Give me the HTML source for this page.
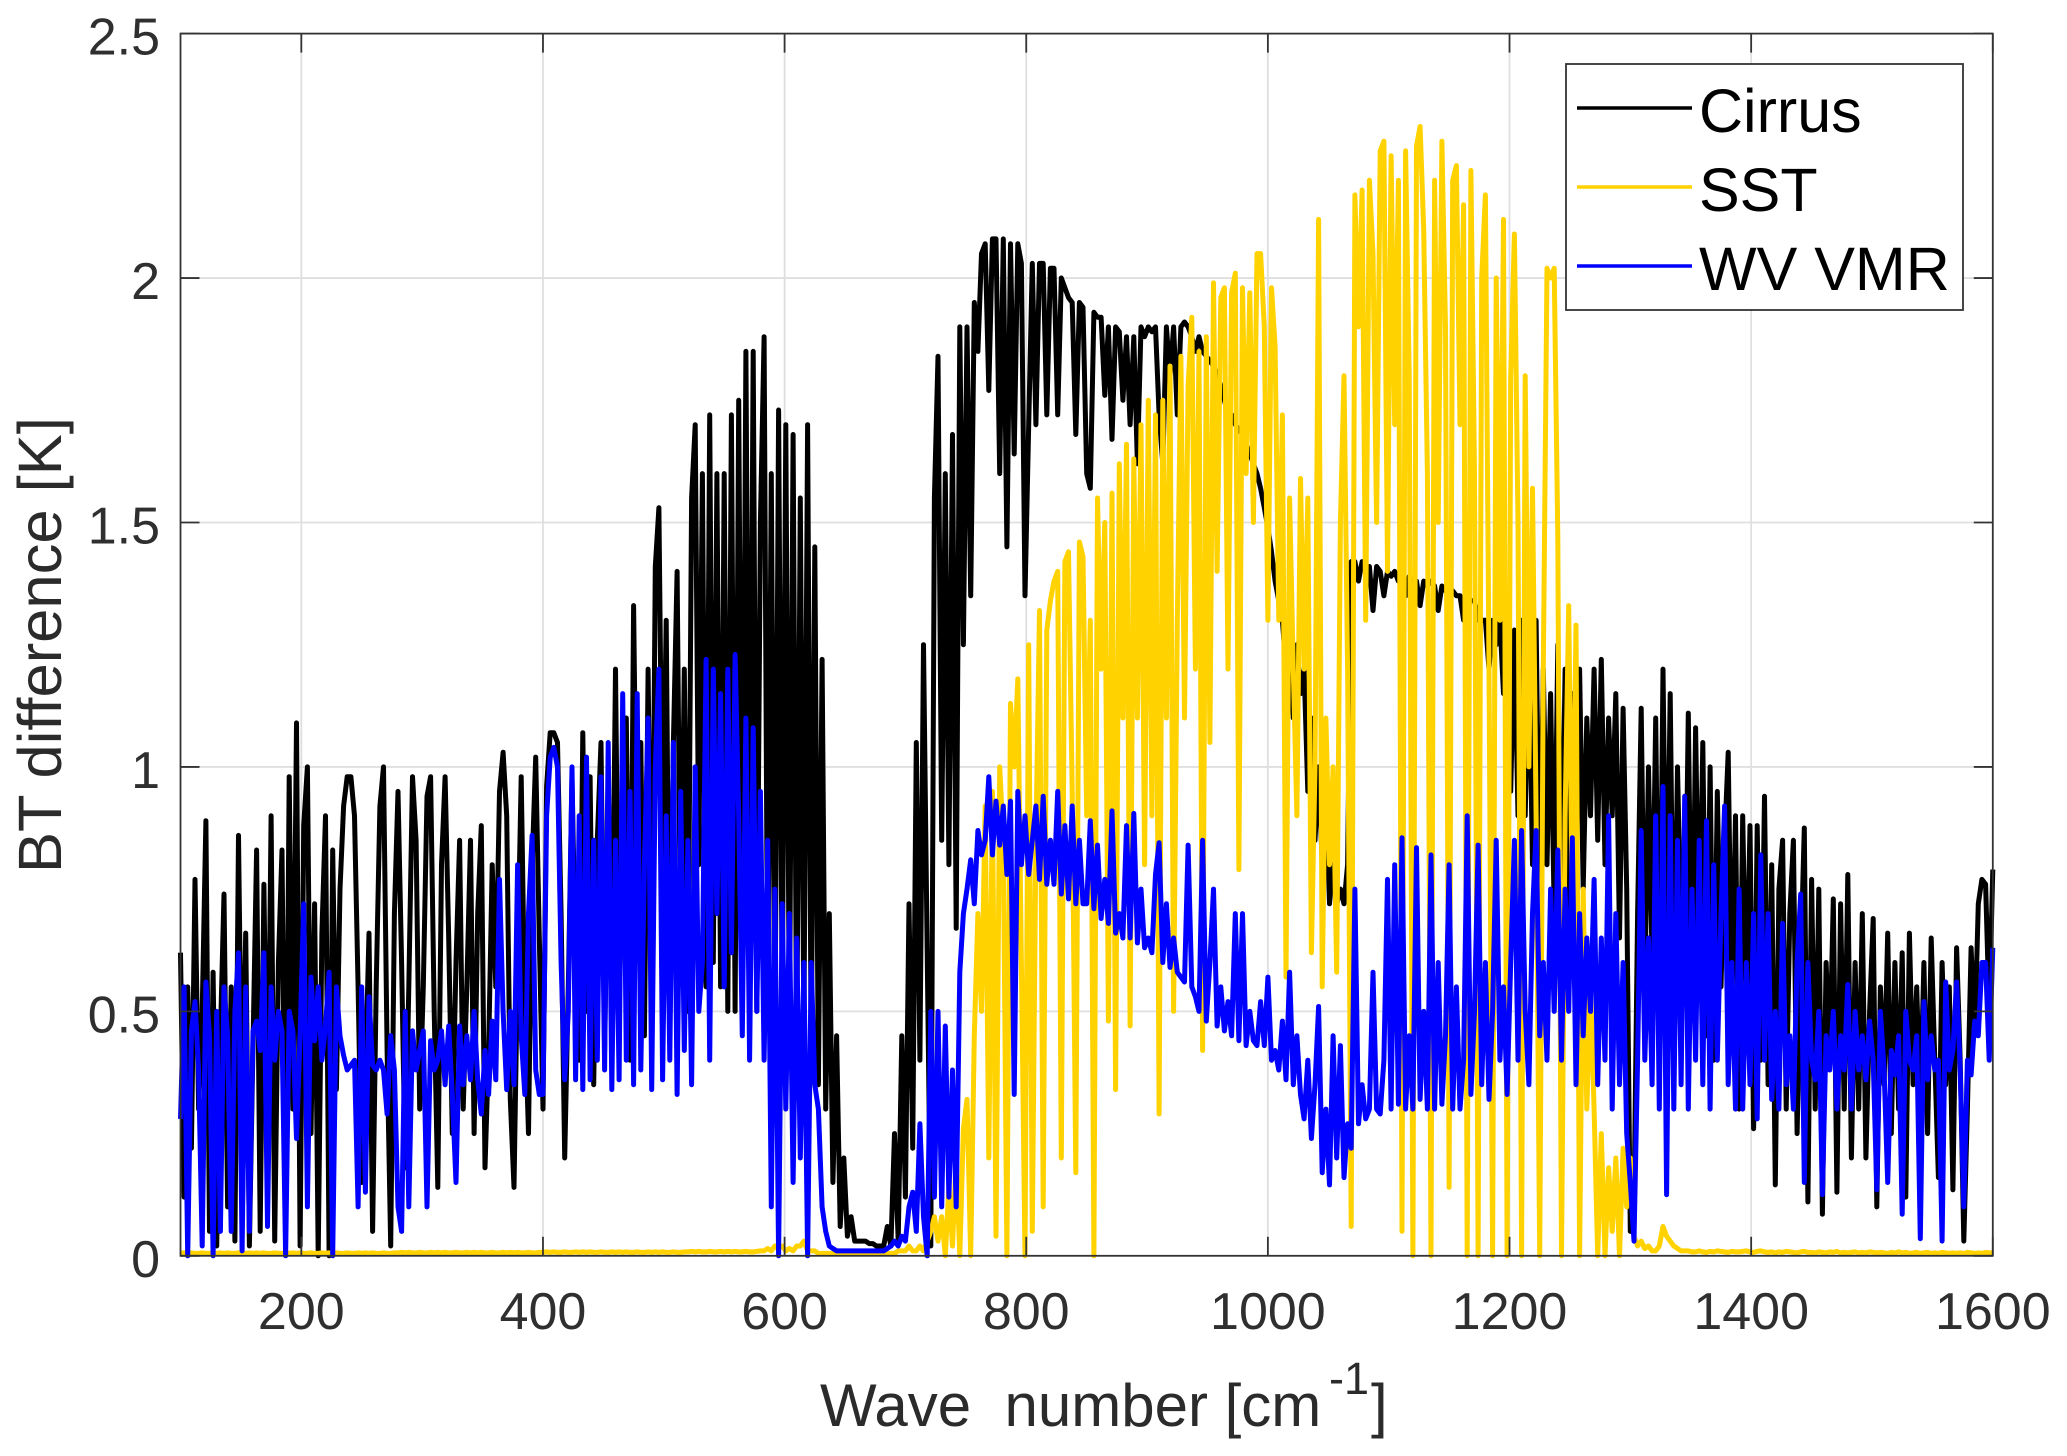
<!DOCTYPE html>
<html>
<head>
<meta charset="utf-8">
<title>BT difference spectrum</title>
<style>
html,body{margin:0;padding:0;background:#fff;width:2067px;height:1456px;overflow:hidden}
svg{display:block}
text{font-family:"Liberation Sans",Arial,sans-serif}
</style>
</head>
<body>
<svg id="chart" xmlns="http://www.w3.org/2000/svg" width="2067" height="1456" viewBox="0 0 2067 1456">
  <rect x="0" y="0" width="2067" height="1456" fill="#fff"/>
  <g id="grid"></g>
  <g id="series"></g>
  <g id="axes"></g>
  <text x="820" y="1426" font-size="60" fill="#2b2b2b" xml:space="preserve">Wave  number [cm<tspan font-size="45" x="1329" dy="-32">-1</tspan><tspan x="1371" dy="32">]</tspan></text>
  <text transform="translate(61,873) rotate(-90)" font-size="61.5" fill="#2b2b2b">BT difference [K]</text>
  <g>
    <rect x="1566" y="64" width="397" height="246" fill="#fff" stroke="#333" stroke-width="1.8"/>
    <line x1="1577" x2="1692" y1="108" y2="108" stroke="#000" stroke-width="3.6"/>
    <text x="1699" y="132" font-size="61" fill="#000">Cirrus</text>
    <line x1="1577" x2="1692" y1="187" y2="187" stroke="#ffd200" stroke-width="3.6"/>
    <text x="1699" y="211" font-size="61" fill="#000">SST</text>
    <line x1="1577" x2="1692" y1="266" y2="266" stroke="#0000ff" stroke-width="3.6"/>
    <text x="1699" y="290" font-size="61" fill="#000">WV VMR</text>
  </g>
</svg>
<script>
const waveStart = 100;
const waveStep = 3;
const xTicks = [200,400,600,800,1000,1200,1400,1600];
const yTicks = [0,0.5,1,1.5,2,2.5];
const xTickLabels = ['200','400','600','800','1000','1200','1400','1600'];
const yTickLabels = ['0','0.5','1','1.5','2','2.5'];
const cirrusBT = [
.62,.12,.55,.22,.77,.3,.5,.89,.05,.58,
.02,.45,.74,.1,.55,.03,.86,.25,.66,.02,
.43,.83,.05,.76,.2,.9,.03,.6,.83,.05,
.98,.3,1.09,.02,.88,1.0,.25,.72,.0,.66,
.9,.0,.83,.34,.75,.92,.98,.98,.9,.55,
.15,.37,.66,.05,.55,.92,1.0,.42,.02,.7,
.95,.6,.18,.55,.98,.85,.3,.55,.94,.98,
.5,.14,.8,.98,.65,.25,.6,.85,.3,.55,
.85,.25,.7,.88,.18,.42,.8,.55,.95,1.03,
.9,.32,.14,.6,.98,.5,.25,.8,1.02,.65,
.3,.96,1.07,1.07,1.05,.7,.2,.55,.98,.6,
.4,1.07,.5,.98,.35,.85,1.05,.42,.9,.5,
1.2,.48,.9,1.1,.4,1.33,.7,1.05,.45,1.2,
.5,1.41,1.53,.8,1.3,.45,1.05,1.4,.6,1.2,
.5,1.55,1.7,.8,1.6,.55,1.72,.6,1.6,.55,
1.6,.5,1.72,.5,1.75,.55,1.85,.6,1.85,.5,
1.5,1.88,.5,1.6,.4,1.73,.5,1.7,.45,1.68,
.4,1.55,.45,1.7,.4,1.45,.35,1.22,.3,.7,
.15,.45,.06,.2,.04,.08,.03,.03,.03,.03,
.025,.025,.02,.02,.02,.06,.02,.25,.03,.45,
.12,.72,.22,1.05,.4,1.25,.62,.02,1.55,1.84,
.85,1.6,.8,1.68,.67,1.9,1.25,1.9,1.35,1.95,
1.85,2.05,2.07,1.77,2.08,2.08,1.6,2.08,1.45,2.07,
1.64,2.07,2.03,1.35,1.7,2.03,1.7,2.03,2.03,1.72,
2.02,2.02,1.72,2.0,1.98,1.96,1.95,1.68,1.95,1.94,
1.6,1.57,1.93,1.92,1.92,1.76,1.9,1.67,1.9,1.89,
1.75,1.88,1.7,1.88,1.62,1.9,1.88,1.9,1.89,1.9,
1.72,1.62,1.9,1.8,1.9,1.72,1.9,1.91,1.9,1.88,
1.85,1.88,1.85,1.84,1.83,1.82,1.8,1.78,1.75,1.72,
1.72,1.7,1.69,1.68,1.66,1.64,1.62,1.6,1.57,1.53,
1.49,1.44,1.38,1.34,1.3,1.2,1.28,1.1,1.25,1.15,
1.2,.95,1.1,.85,1.0,.8,.95,.72,.8,.72,
.75,.72,.8,1.42,1.42,1.38,1.42,1.4,1.41,1.32,
1.41,1.4,1.35,1.4,1.39,1.4,1.38,1.39,1.35,1.39,
1.38,1.38,1.33,1.38,1.37,1.38,1.37,1.32,1.37,1.36,
1.36,1.36,1.35,1.35,1.3,1.35,1.34,1.34,1.3,1.3,
1.3,1.2,1.3,1.25,1.3,1.15,1.3,.95,1.28,.9,
1.3,.9,1.25,.8,1.3,.7,1.2,.8,1.15,.7,
1.25,.7,1.2,.65,1.15,.85,1.2,.75,1.1,.9,
1.2,.85,1.22,.8,1.1,.9,1.15,.65,1.12,.75,
.05,.1,.7,1.12,.55,1.0,.6,1.1,.45,1.2,
.6,1.15,.5,1.0,.65,.55,1.11,.5,1.08,.6,
1.05,.45,1.0,.4,.95,.55,.85,1.03,.5,.9,
.3,.9,.5,.88,.26,.88,.4,.94,.35,.8,
.145,.75,.85,.3,.7,.85,.25,.6,.875,.11,
.77,.3,.75,.085,.6,.4,.73,.13,.72,.3,
.78,.2,.6,.3,.7,.2,.5,.69,.1,.55,
.35,.66,.25,.6,.3,.62,.12,.66,.35,.55,
.3,.6,.25,.65,.4,.16,.6,.35,.55,.135,
.63,.4,.03,.3,.63,.45,.72,.77,.76,.5,
.79];
const sstBT = [
.005,.006,.005,.006,.005,.005,.006,.005,.005,.006,
.005,.006,.005,.006,.005,.005,.006,.005,.005,.006,
.005,.006,.005,.006,.005,.005,.006,.005,.005,.006,
.005,.006,.005,.006,.005,.005,.006,.005,.005,.006,
.005,.006,.005,.006,.005,.005,.006,.005,.005,.006,
.005,.006,.005,.006,.005,.005,.006,.005,.005,.006,
.006,.007,.006,.007,.006,.006,.007,.006,.006,.007,
.006,.007,.006,.007,.006,.006,.007,.006,.006,.007,
.006,.007,.006,.007,.006,.006,.007,.006,.006,.007,
.006,.007,.006,.007,.006,.006,.007,.006,.006,.007,
.007,.008,.007,.008,.007,.007,.008,.007,.007,.008,
.007,.008,.007,.008,.007,.007,.008,.007,.007,.008,
.007,.008,.007,.008,.007,.007,.008,.007,.007,.008,
.007,.008,.007,.008,.007,.007,.008,.007,.007,.008,
.008,.009,.008,.009,.008,.008,.009,.008,.008,.009,
.008,.009,.008,.009,.008,.008,.009,.008,.008,.009,
.01,.01,.015,.01,.02,.015,.02,.01,.015,.01,
.02,.02,.03,.01,.01,.01,.005,.005,.005,.005,
.005,.005,.005,.005,.005,.005,.005,.005,.005,.005,
.005,.005,.005,.005,.005,.005,.005,.005,.01,.01,
.01,.02,.01,.01,.02,.01,.03,.05,.08,.03,
.08,.0,.14,.02,.2,.0,.26,.32,.0,.45,
.7,.5,.92,.2,.95,.04,1.0,.85,.0,1.13,
1.0,1.18,.6,.0,1.25,.05,.85,1.32,.1,1.28,
1.34,1.38,1.4,.2,1.42,1.44,.95,.17,1.46,1.43,
.9,1.3,.0,1.55,1.2,1.5,.48,1.56,.34,1.62,
1.1,1.66,.47,1.63,1.1,1.7,.8,1.75,.9,1.72,
.29,1.75,1.1,1.82,.5,1.3,1.84,1.1,1.78,1.92,
1.2,1.85,.42,1.88,1.05,1.99,1.4,1.96,1.98,1.2,
1.97,2.01,.79,1.98,1.6,1.97,1.5,2.05,2.05,1.9,
1.3,1.98,1.86,1.3,1.72,.57,1.55,1.2,.9,1.59,
1.2,1.55,.62,1.0,2.12,.55,1.1,.8,1.0,.58,
1.5,1.8,1.2,.06,2.17,1.9,2.18,1.3,2.2,2.05,
1.5,2.26,2.28,1.4,2.25,1.7,2.2,.05,2.26,1.8,
.0,2.27,2.31,2.1,1.6,.0,2.2,1.5,2.28,1.9,
.14,2.2,2.23,1.7,2.15,.0,2.22,1.6,.0,2.0,
2.17,1.2,.0,2.0,1.3,2.12,.0,1.8,2.09,1.5,
.0,1.8,1.0,1.57,.9,.0,1.2,2.02,2.0,2.02,
1.47,.0,.9,1.33,.7,1.29,.0,.75,.3,.55,
.3,.0,.25,.0,.18,.05,.2,.0,.22,.1,
.2,.04,.02,.03,.015,.02,.01,.01,.02,.06,
.04,.03,.02,.015,.01,.01,.01,.008,.008,.01,
.008,.007,.009,.008,.01,.009,.008,.007,.009,.008,
.008,.009,.01,.008,.007,.009,.01,.008,.007,.008,
.006,.008,.007,.009,.008,.007,.006,.008,.009,.007,
.007,.006,.008,.007,.006,.008,.007,.009,.006,.007,
.006,.007,.008,.006,.007,.006,.008,.007,.006,.007,
.006,.005,.007,.006,.008,.006,.007,.005,.006,.007,
.005,.006,.007,.005,.006,.005,.007,.006,.005,.006,
.005,.006,.005,.007,.006,.005,.006,.005,.007,.006,
.006];
const wvVmrBT = [
.28,.55,.0,.46,.52,.38,.02,.56,.45,.0,
.5,.05,.55,.45,.05,.5,.62,.01,.55,.05,
.46,.48,.42,.62,.06,.55,.4,.5,.46,.0,
.5,.46,.24,.45,.72,.1,.57,.44,.55,.4,
.47,.58,.0,.55,.45,.41,.38,.39,.4,.1,
.55,.13,.53,.39,.38,.4,.38,.29,.45,.38,
.1,.05,.5,.1,.46,.38,.42,.46,.1,.44,
.38,.4,.46,.35,.47,.33,.15,.47,.35,.45,
.36,.5,.36,.29,.42,.33,.48,.36,.77,.5,
.34,.5,.35,.8,.45,.33,.7,.86,.38,.33,
.33,.9,1.02,1.04,1.0,.6,.36,.5,1.0,.36,
.9,.34,1.02,.36,.85,.4,.98,.38,1.05,.34,
.85,.36,1.15,.4,.95,.35,1.15,.38,.8,1.1,
.34,1.0,1.2,.36,.9,.4,1.05,.33,.95,.42,
.85,.35,1.0,.5,.6,1.22,.4,1.2,.7,1.15,
.55,1.2,.62,1.23,.9,.45,1.1,.4,1.08,.5,
.95,.4,.85,.1,.75,.0,.72,.3,.7,.15,
.65,.2,.6,.0,.6,.35,.3,.1,.05,.02,
.015,.01,.01,.01,.01,.01,.01,.01,.01,.01,
.01,.01,.01,.01,.01,.015,.02,.03,.02,.04,
.03,.1,.13,.05,.27,.08,.0,.5,.12,.5,
.1,.47,.12,.38,.1,.58,.7,.75,.81,.72,
.87,.82,.85,.98,.82,.93,.84,.92,.78,.93,
.33,.95,.8,.9,.78,.85,.92,.77,.94,.76,
.85,.76,.95,.74,.88,.73,.92,.72,.85,.72,
.72,.89,.71,.84,.69,.77,.68,.91,.66,.7,
.65,.88,.65,.905,.64,.75,.63,.65,.62,.78,
.845,.6,.72,.59,.65,.58,.57,.56,.84,.55,
.53,.5,.85,.48,.6,.75,.47,.55,.46,.52,
.45,.7,.44,.7,.43,.5,.44,.43,.52,.43,
.57,.4,.42,.38,.48,.36,.58,.35,.45,.33,
.28,.4,.24,.35,.51,.17,.3,.145,.45,.2,
.43,.16,.27,.22,.75,.27,.35,.28,.3,.58,
.3,.29,.4,.77,.3,.8,.31,.855,.3,.45,
.3,.835,.32,.5,.3,.82,.3,.6,.31,.45,
.8,.3,.55,.3,.4,.9,.33,.5,.84,.35,
.6,.32,.5,.85,.4,.55,.33,.6,.85,.4,
.87,.5,.35,.7,.87,.45,.6,.4,.75,.5,
.83,.4,.75,.5,.855,.35,.7,.45,.65,.5,
.77,.35,.65,.4,.9,.3,.7,.35,.6,.25,
.15,.03,.4,.87,.4,.65,.35,.9,.3,.96,
.125,.9,.3,.85,.35,.94,.3,.75,.4,.85,
.35,.89,.3,.8,.4,.7,.92,.35,.6,.3,
.75,.3,.6,.35,.7,.28,.82,.4,.7,.32,
.5,.3,.68,.35,.45,.3,.6,.74,.15,.6,
.4,.36,.5,.125,.45,.38,.5,.3,.45,.38,
.555,.3,.5,.38,.45,.36,.48,.4,.135,.5,
.38,.15,.42,.37,.45,.085,.5,.4,.38,.45,
.035,.52,.36,.45,.38,.4,.03,.56,.38,.42,
.56,.38,.1,.4,.37,.48,.45,.6,.6,.4,
.63];

const SVG_NS = 'http://www.w3.org/2000/svg';
const plot = {left: 180.5, right: 1992.8, top: 33.6, bottom: 1255.8};
const xDomain = [100, 1600];
const yDomain = [0, 2.5];
function xScale(v){ return plot.left + (v - xDomain[0]) / (xDomain[1] - xDomain[0]) * (plot.right - plot.left); }
function yScale(v){ return plot.bottom - (v - yDomain[0]) / (yDomain[1] - yDomain[0]) * (plot.bottom - plot.top); }
function mk(tag, attrs, parent){
  const el = document.createElementNS(SVG_NS, tag);
  for (const k in attrs) el.setAttribute(k, attrs[k]);
  parent.appendChild(el);
  return el;
}
const gridG = document.getElementById('grid');
const axesG = document.getElementById('axes');
const seriesG = document.getElementById('series');
const tickColor = '#333333';
xTicks.forEach(function(t, i){
  const x = xScale(t);
  if (t < xDomain[1]) {
    const g = mk('line', {x1:x, x2:x, y1:plot.top, y2:plot.bottom, stroke:'#dfdfdf', 'stroke-width':1.8}, gridG);
    
    
  }
  const tb = mk('line', {x1:x, x2:x, y1:plot.bottom, y2:plot.bottom-19, stroke:tickColor, 'stroke-width':1.8}, axesG);
  
  
  const tt = mk('line', {x1:x, x2:x, y1:plot.top, y2:plot.top+19, stroke:tickColor, 'stroke-width':1.8}, axesG);
  
  
  const lab = mk('text', {x:x, y:1329, 'font-size':52, fill:'#2f2f2f', 'text-anchor':'middle'}, axesG);
  
  
  lab.textContent = xTickLabels[i];
});
yTicks.forEach(function(t, i){
  const y = yScale(t);
  if (t > yDomain[0] && t < yDomain[1]) {
    const g = mk('line', {x1:plot.left, x2:plot.right, y1:y, y2:y, stroke:'#dfdfdf', 'stroke-width':1.8}, gridG);
    
    
  }
  const tl = mk('line', {x1:plot.left, x2:plot.left+19, y1:y, y2:y, stroke:tickColor, 'stroke-width':1.8}, axesG);
  
  
  const tr = mk('line', {x1:plot.right, x2:plot.right-19, y1:y, y2:y, stroke:tickColor, 'stroke-width':1.8}, axesG);
  
  
  const lab = mk('text', {x:160, y:y+21, 'font-size':52, fill:'#2f2f2f', 'text-anchor':'end'}, axesG);
  
  
  lab.textContent = yTickLabels[i];
});
const frame = mk('rect', {x:plot.left, y:plot.top, width:plot.right-plot.left, height:plot.bottom-plot.top, fill:'none', stroke:tickColor, 'stroke-width':1.8}, axesG);



function linePath(values){
  let d = '';
  for (let i = 0; i < values.length; i++) {
    const w = waveStart + i * waveStep;
    d += (i ? 'L' : 'M') + xScale(w).toFixed(1) + ' ' + yScale(values[i]).toFixed(1);
  }
  return d;
}
const cirrusLine = mk('path', {d:linePath(cirrusBT), fill:'none', stroke:'#000000', 'stroke-width':5, 'stroke-linejoin':'round'}, seriesG);


const sstLine = mk('path', {d:linePath(sstBT), fill:'none', stroke:'#ffd200', 'stroke-width':5, 'stroke-linejoin':'round'}, seriesG);


const wvLine = mk('path', {d:linePath(wvVmrBT), fill:'none', stroke:'#0000ff', 'stroke-width':5, 'stroke-linejoin':'round'}, seriesG);


</script>
</body>
</html>
